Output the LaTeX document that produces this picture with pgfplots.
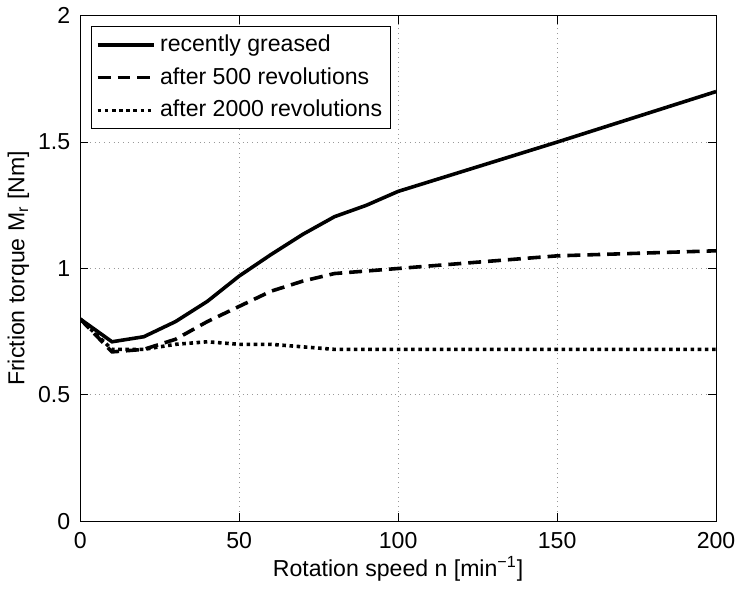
\documentclass[border=0pt]{standalone}
\usepackage{pgfplots}
\pgfplotsset{compat=1.18}
\usepackage{fontspec}
\setmainfont{Liberation Sans}
\begin{document}
\fontsize{11.6}{14}\selectfont
\begin{tikzpicture}
\begin{axis}[
  scale only axis,
  width=319.5pt, height=254pt,
  xmin=0, xmax=200, ymin=0, ymax=2,
  xtick={0,50,100,150,200},
  ytick={0,0.5,1,1.5,2},
  yticklabels={0,0.5,1,1.5,2},
  xticklabels={0,50,100,150,200},
  tick align=inside,
  tick style={black, line width=0.4pt},
  major tick length=4pt,
  axis line style={line width=0.5pt},
  grid=major,
  major grid style={gray!80, dotted, line width=0.45pt},
  tick label style={font=\fontsize{11.6}{14}\selectfont},
  label style={font=\fontsize{11.6}{14}\selectfont},
  xlabel={Rotation speed n [min\textsuperscript{−1}]},
  ylabel={Friction torque M\textsubscript{r} [Nm]},
  xticklabel style={yshift=-1.5pt},
  yticklabel style={xshift=-1pt},
  xlabel style={yshift=4pt},
  ylabel style={yshift=-3.5pt},
  legend style={at={(rel axis cs:0.0175,0.979)}, anchor=north west,
    draw=black, line width=0.5pt, font=\fontsize{11.6}{14}\selectfont,
    row sep=2.3pt, inner sep=2pt},
  legend cell align=left,
  legend image code/.code={\draw[#1] (0cm,0cm) -- (28.5pt,0cm);},
]
\addplot[black, line width=1.8pt] coordinates {
(0,0.80) (10,0.71) (20,0.73) (30,0.79) (40,0.87) (50,0.97) (60,1.055) (70,1.135) (80,1.205) (90,1.25) (100,1.305) (150,1.50) (200,1.70)};
\addlegendentry{recently greased}
\addplot[black, line width=1.8pt, dash pattern=on 6.5pt off 3.5pt] coordinates {
(0,0.80) (10,0.67) (20,0.68) (30,0.72) (40,0.79) (50,0.85) (60,0.91) (70,0.95) (80,0.98) (90,0.99) (100,1.0) (150,1.05) (200,1.07)};
\addlegendentry{after 500 revolutions}
\addplot[black, line width=1.8pt, dash pattern=on 1.8pt off 1.8pt] coordinates {
(0,0.80) (10,0.68) (20,0.68) (30,0.70) (40,0.71) (50,0.70) (60,0.70) (70,0.69) (80,0.68) (100,0.68) (150,0.68) (200,0.68)};
\addlegendentry{after 2000 revolutions}
\end{axis}
\end{tikzpicture}
\end{document}
